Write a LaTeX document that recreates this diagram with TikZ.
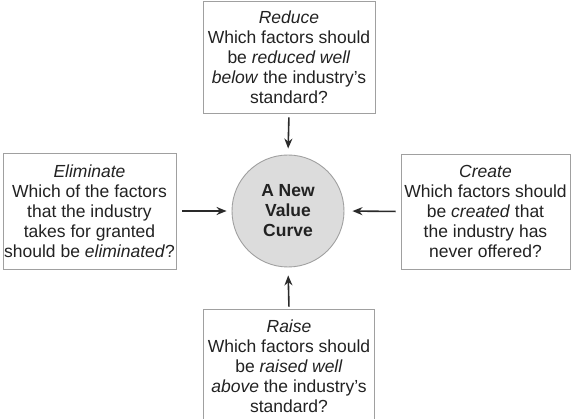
\documentclass[tikz,border=0pt]{standalone}
\usepackage{fontspec}
\setmainfont{Liberation Sans}
\usetikzlibrary{arrows.meta}
\definecolor{boxline}{HTML}{A0A0A0}
\definecolor{txt}{HTML}{222222}
\definecolor{circfill}{HTML}{DCDCDC}
\definecolor{arrowc}{HTML}{2A2A2A}
\tikzset{
  qbox/.style={draw=boxline, line width=0.9pt, fill=white, inner sep=0pt, align=center,
    text=txt, font=\fontsize{17.5}{20}\selectfont},
  valcirc/.style={circle, draw=boxline, line width=0.9pt, fill=circfill, minimum size=112pt,
    inner sep=0pt, align=center, text=txt, font=\fontsize{17.5}{20}\selectfont\bfseries},
  conn/.style={draw=arrowc, line width=1.6pt, -{Stealth[length=10pt,width=8pt]}}
}
\begin{document}
\begin{tikzpicture}[x=1pt,y=-1pt]
\useasboundingbox (0,0) rectangle (571,419);
\node[qbox, minimum width=172pt, minimum height=112pt] (top) at (289,57)
  {\textit{Reduce}\\Which factors should\\be \textit{reduced well}\\\textit{below} the industry’s\\standard?};
\node[qbox, minimum width=173pt, minimum height=116pt] (left) at (89.5,211)
  {\textit{Eliminate}\\Which of the factors\\that the industry\\takes for granted\\should be \textit{eliminated}?};
\node[qbox, minimum width=169pt, minimum height=115pt] (right) at (485.5,211.5)
  {\textit{Create}\\Which factors should\\be \textit{created} that\\the industry has\\never offered?};
\node[qbox, minimum width=171pt, minimum height=114pt] (bottom) at (289,366)
  {\textit{Raise}\\Which factors should\\be \textit{raised well}\\\textit{above} the industry’s\\standard?};
\node[valcirc] (circ) at (288,211) {A New\\Value\\Curve};
\draw[conn, shorten <=4pt, shorten >=6pt] (top.south) -- (circ.north);
\draw[conn, shorten <=6pt, shorten >=5pt] (left.east) -- (circ.west);
\draw[conn, shorten <=5pt, shorten >=8pt] (right.west) -- (circ.east);
\draw[conn, shorten <=2pt, shorten >=8pt] (bottom.north) -- (circ.south);
\end{tikzpicture}
\end{document}
